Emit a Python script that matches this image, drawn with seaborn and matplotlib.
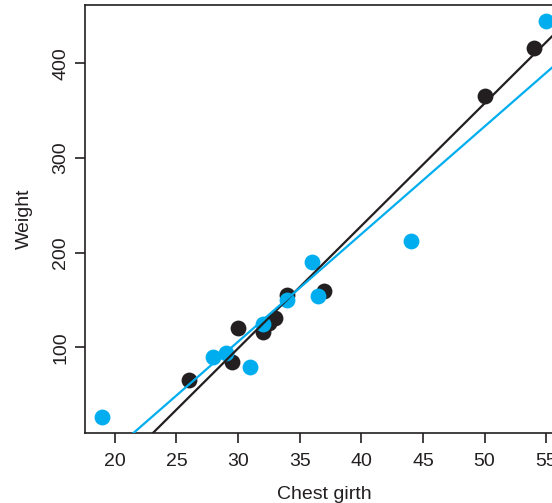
import matplotlib
matplotlib.use('Agg')
import matplotlib.pyplot as plt
import pandas as pd
import seaborn as sns

# chest girth vs weight, two groups (black and blue)
black_girth = [26, 29.5, 30, 32, 32.5, 33, 34, 37, 50, 54]
black_weight = [65, 85, 120, 116, 126, 131, 155, 160, 365, 416]
blue_girth = [19, 28, 29, 31, 32, 34, 36, 36.5, 44, 55]
blue_weight = [26, 90, 94, 79, 125, 150, 190, 154, 212, 445]

x_ticks = [20, 25, 30, 35, 40, 45, 50, 55]
y_ticks = [100, 200, 300, 400]

df_black = pd.DataFrame({'girth': black_girth, 'weight': black_weight})
df_blue = pd.DataFrame({'girth': blue_girth, 'weight': blue_weight})

sns.set_style('ticks')
plt.rcParams['font.family'] = ['Liberation Sans', 'DejaVu Sans']

black = '#231f20'
blue = '#00aeef'

fig = plt.figure(figsize=(5.52, 5.03), dpi=100)
ax = fig.add_axes([0.1534, 0.1386, 0.8683, 0.852])

# R style limits: data range padded by 4%
allx = black_girth + blue_girth
ally = black_weight + blue_weight
rx = max(allx) - min(allx)
ry = max(ally) - min(ally)
xlim = (min(allx) - 0.04 * rx, max(allx) + 0.04 * rx)
ylim = (min(ally) - 0.04 * ry, max(ally) + 0.04 * ry)
ax.set_xlim(xlim)
ax.set_ylim(ylim)

sns.regplot(data=df_black, x='girth', y='weight', ax=ax, ci=None, truncate=False,
            scatter_kws={'s': 130, 'color': black, 'linewidths': 0, 'alpha': 1, 'zorder': 2},
            line_kws={'color': black, 'lw': 1.6, 'zorder': 4})
sns.regplot(data=df_blue, x='girth', y='weight', ax=ax, ci=None, truncate=False,
            scatter_kws={'s': 130, 'color': blue, 'linewidths': 0, 'alpha': 1, 'zorder': 3},
            line_kws={'color': blue, 'lw': 1.6, 'zorder': 4})

ax.set_xlim(xlim)
ax.set_ylim(ylim)

ax.set_xticks(x_ticks)
ax.set_yticks(y_ticks)
ax.tick_params(axis='both', direction='out', length=7, width=1.2, color=black,
               labelsize=14, labelcolor=black)
ax.tick_params(axis='x', pad=7)
ax.tick_params(axis='y', pad=4)
for lab in ax.get_yticklabels():
    lab.set_rotation(90)
    lab.set_va('center')

for sp in ax.spines.values():
    sp.set_visible(True)
    sp.set_color(black)
    sp.set_linewidth(1.2)

ax.set_xlabel('Chest girth', fontsize=14, color=black, labelpad=12)
ax.set_ylabel('Weight', fontsize=14, color=black, labelpad=14)

fig.savefig('out.png', dpi=100)
